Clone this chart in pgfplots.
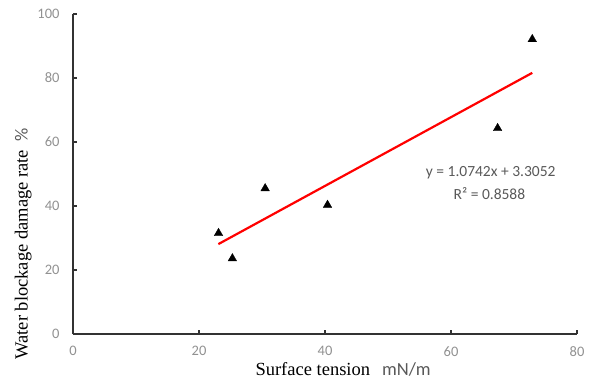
\documentclass[border=0pt]{standalone}
\usepackage{pgfplots}
\pgfplotsset{compat=1.18}
\usepackage{fontspec}
\setmainfont{Liberation Serif}
\newfontfamily\calibri{Carlito}
\definecolor{ticklab}{RGB}{145,145,145}
\definecolor{eqgray}{RGB}{89,89,89}
\definecolor{axline}{RGB}{50,50,50}
\begin{document}
\begin{tikzpicture}
\begin{axis}[
  scale only axis,
  width=504pt, height=320pt,
  xmin=0, xmax=80, ymin=0, ymax=100,
  xtick={0,20,40,60,80}, ytick={0,20,40,60,80,100},
  axis lines*=left,
  axis line style={axline, line width=1.2pt, -},
  tick style={axline, line width=1.2pt},
  tick align=inside,
  major tick length=4pt,
  /pgf/number format/assume math mode=true,
  ticklabel style={font=\calibri\fontsize{14.5}{16}\selectfont, text=ticklab},
  xticklabel style={yshift=-9pt},
  yticklabel style={xshift=-10pt},
  xlabel={\fontsize{18.5}{20}\selectfont Surface tension\hspace{12pt}{\calibri\color{eqgray}mN/m}},
  xlabel style={at={(axis description cs:0.536,-0.109)}, anchor=center},
  ylabel={\fontsize{18.5}{20}\selectfont Water blockage damage rate\hspace{8pt}{\calibri\color{eqgray}\%}},
  ylabel style={at={(axis description cs:-0.099,0.281)}, anchor=center},
  clip=false,
]
\addplot[red, line width=2.2pt] coordinates {(23.07,28.09) (72.9,81.61)};
\addplot[only marks, mark=triangle*, mark size=5pt, mark options={fill=black, draw=black, line width=0.3pt}]
  coordinates {(23.1,31.5) (25.3,23.6) (30.5,45.5) (40.4,40.3) (67.4,64.3) (72.9,92.1)};
\node[font=\calibri\fontsize{15.5}{17}\selectfont, text=eqgray, anchor=center] at (axis cs:66.3,50.3) {y = 1.0742x + 3.3052};
\node[font=\calibri\fontsize{15.5}{17}\selectfont, text=eqgray, anchor=center] at (axis cs:66.1,43.75) {R² = 0.8588};
\end{axis}
\pgfresetboundingbox
\path (current axis.south west) ++(-73pt,-47pt) rectangle ([shift={(13pt,14pt)}]current axis.north east);
\end{tikzpicture}
\end{document}
